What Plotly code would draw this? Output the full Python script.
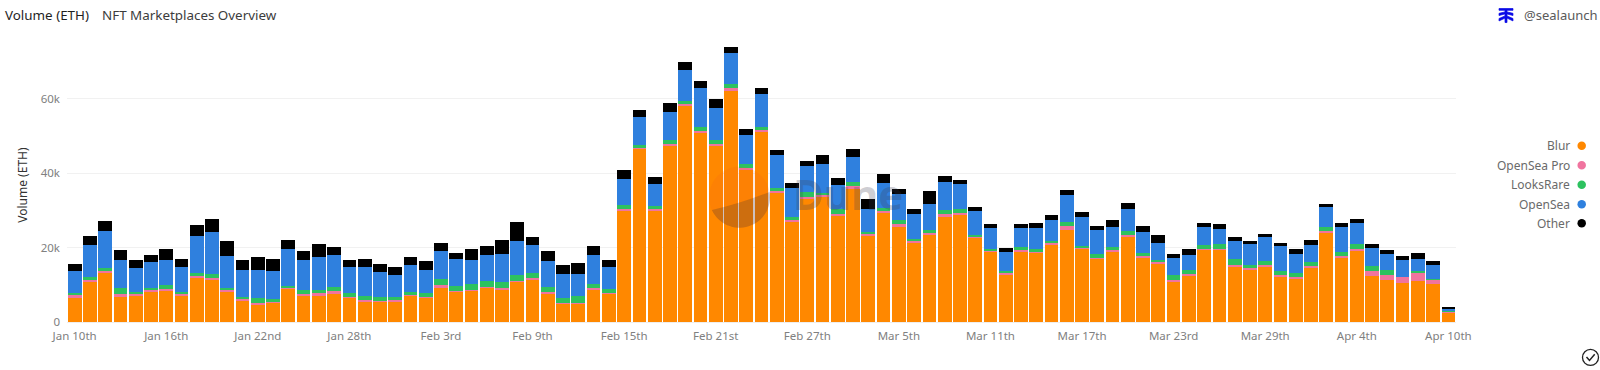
import math
import pandas as pd
import plotly.graph_objects as go

FONT = "Noto Sans"
dates = pd.date_range("2023-01-10", "2023-04-10").strftime("%Y-%m-%d").tolist()

tick_dates = ["2023-01-10","2023-01-16","2023-01-22","2023-01-28","2023-02-03","2023-02-09","2023-02-15",
              "2023-02-21","2023-02-27","2023-03-05","2023-03-11","2023-03-17","2023-03-23","2023-03-29",
              "2023-04-04","2023-04-10"]
tick_labels = ["Jan 10th","Jan 16th","Jan 22nd","Jan 28th","Feb 3rd","Feb 9th","Feb 15th","Feb 21st","Feb 27th",
               "Mar 5th","Mar 11th","Mar 17th","Mar 23rd","Mar 29th","Apr 4th","Apr 10th"]
y_ticks = [0, 20000, 40000, 60000]
y_labels = ["0", "20k", "40k", "60k"]

# thousands of ETH, one value per day
blur = [6.5,11.0,13.4,6.9,7.2,8.1,8.4,7.1,11.85,11.2,8.1,5.8,4.6,5.2,8.9,7.1,7.2,7.6,6.5,5.6,5.4,5.4,7.0,6.5,9.4,8.1,
        8.45,9.2,8.8,10.8,11.5,7.7,4.9,4.9,8.8,7.6,30.1,46.65,30.1,47.55,58.3,50.8,47.3,62.2,40.85,51.2,34.85,26.9,
        33.3,33.8,28.6,36.0,23.3,29.4,25.8,21.5,23.3,28.3,28.8,22.6,19.0,12.85,19.0,18.6,20.6,24.8,19.65,17.0,18.75,
        23.05,17.4,15.6,10.9,12.6,19.4,19.4,14.9,14.1,14.7,12.1,11.7,14.7,23.85,17.2,19.0,12.3,11.2,10.5,11.1,10.1,2.3]
opensea_pro = [.7,.4,.4,.5,.5,.5,.6,.3,.55,.65,.4,.3,.45,.4,.45,.4,.5,.7,.3,.4,.3,.4,.3,.3,.5,.35,
               .25,.3,.4,.3,.35,.4,.2,.2,.4,.2,.3,.25,.3,.25,.3,.6,.6,.6,.65,.3,.25,.6,
               .3,.4,.5,.5,.45,.4,.5,.5,.7,.8,.5,.3,.3,.35,.4,.3,.6,.9,.45,.3,.55,
               .45,.45,.4,.4,.4,.3,.3,.45,.35,.55,.5,.3,.4,.65,.65,.65,1.5,1.45,1.6,2.3,1.2,.55]
looksrare = [.6,.7,.8,1.8,.3,.6,1.0,.6,.8,.95,.7,.7,1.35,.5,.45,1.2,.9,1.1,1.1,.9,1.0,.8,.9,.9,1.7,1.35,
             1.4,1.55,1.6,1.5,1.25,1.3,1.4,2.0,1.1,1.2,.95,.75,.8,1.1,.9,1.1,1.0,1.1,.95,.9,1.0,.7,
             1.3,.5,1.3,1.1,.55,.85,1.0,.4,.8,.9,1.1,.6,.4,.5,.7,.75,.7,1.2,.4,1.1,.9,
             1.0,.75,.8,1.4,1.1,1.0,1.3,1.6,.9,1.15,1.2,1.1,1.1,1.05,1.05,1.35,1.3,1.35,.1,.2,.2,.05]
opensea = [5.8,8.5,9.8,7.4,6.4,6.9,6.8,6.9,9.8,11.4,8.65,7.2,7.5,7.6,9.8,8.1,8.9,8.5,6.8,7.8,6.7,6.1,7.1,6.4,7.4,7.1,
           6.7,6.95,7.6,9.1,7.6,7.1,6.3,5.9,7.7,5.9,7.15,7.35,5.9,7.5,8.2,10.3,8.6,8.35,7.85,9.0,8.8,7.8,
           7.1,7.7,6.4,6.7,6.1,6.65,7.0,6.55,6.8,7.7,6.7,6.35,5.5,5.2,5.25,5.55,5.4,7.15,7.6,6.2,5.4,
           6.0,5.6,4.55,4.4,4.0,4.9,3.9,4.95,5.55,6.4,6.7,5.3,4.6,5.25,6.7,5.6,4.9,4.4,4.5,3.45,3.9,.7]
other = [2.0,2.5,2.7,2.7,2.4,1.9,2.9,2.0,3.0,3.4,3.95,2.6,3.7,3.2,2.5,2.4,3.5,2.3,2.0,2.3,2.3,2.0,2.1,2.4,2.25,1.75,
         2.7,2.35,3.65,5.1,2.25,2.6,2.5,2.9,2.35,1.8,2.4,2.1,1.8,2.4,2.2,2.1,2.4,1.8,1.6,1.4,1.4,1.4,
         1.4,2.4,1.8,2.3,2.6,2.6,1.35,1.45,3.7,1.45,1.2,1.05,1.15,1.0,1.05,1.4,1.4,1.45,1.5,1.2,1.8,
         1.6,1.5,1.95,1.3,1.5,1.0,1.5,1.0,.8,.9,.8,1.25,1.2,.9,1.0,1.1,1.1,.9,1.1,1.6,1.0,.35]

series = [("Blur", blur, "#FF8800"), ("OpenSea Pro", opensea_pro, "#F0749F"),
          ("LooksRare", looksrare, "#2DC25F"), ("OpenSea", opensea, "#2F80DE"), ("Other", other, "#000000")]

L, R, T, B = 67, 1456, 30, 322.5
W, H = 1600, 370
px = lambda x: (x - L) / (R - L)
py = lambda y: (B - y) / (B - T)

fig = go.Figure()
for name, vals, color in series:
    fig.add_bar(x=dates, y=[v * 1000 for v in vals], name=name, marker=dict(color=color, line_width=0), showlegend=False)

ann = []
def text(x, y, s, size, color, anchor="left", **kw):
    ann.append(dict(x=px(x), y=py(y), xref="paper", yref="paper", text=s, showarrow=False, xanchor=anchor,
                    yanchor="middle", font=dict(family=FONT, size=size, color=color), **kw))

text(3, 15, "Volume (ETH)", 13.4, "#1f1f1f")
text(100, 15, "NFT Marketplaces Overview", 13.4, "#3c3c3c")
text(1522, 15, "@sealaunch", 13, "#5a5a5a")
text(23, 185, "Volume (ETH)", 12, "#333333", anchor="center", textangle=-90)

shapes = []
def circle(cx, cy, r, **kw):
    return dict(type="circle", xref="paper", yref="paper", x0=px(cx - r), x1=px(cx + r), y0=py(cy + r), y1=py(cy - r), **kw)

for (name, _, color), y in zip(series, [146, 165.5, 185, 204.5, 223.5]):
    text(1572, y, name, 12, "#6a6a6a", anchor="right")
    shapes.append(circle(1581.7, y, 4.25, fillcolor=color, line_width=0))

def pixel_path(cx, cy, path, **kw):
    return dict(type="path", xref="paper", yref="paper", xsizemode="pixel", ysizemode="pixel",
                xanchor=px(cx), yanchor=py(cy), path=path, **kw)

def arc(r, a0, a1, n=32):
    return [(r * math.cos(math.radians(a0 + (a1 - a0) * i / n)), r * math.sin(math.radians(a0 + (a1 - a0) * i / n))) for i in range(n + 1)]

def poly(points):
    return "M" + " L".join(f"{x:.2f},{y:.2f}" for x, y in points)

# @sealaunch mark
shapes.append(pixel_path(1506, 15.5,
    "M-7,7 L7,7 L7,5.2 L1,5.2 L1,3.6 L7,2.2 L7,0 L1,1.6 L1,-0.4 L7,-3 L7,-5.4 L1,-2.6 L1,-7 L-1,-7 L-1,-2.6 L-7,-5.4 L-7,-3 L-1,-0.4 L-1,1.6 L-7,0 L-7,2.2 L-1,3.6 L-1,5.2 L-7,5.2 Z",
    fillcolor="#0A0AE6", line=dict(color="#0A0AE6", width=0.7)))
# corner check mark
shapes.append(circle(1590.5, 358, 8, fillcolor="rgba(0,0,0,0)", line=dict(color="#222222", width=1.3)))
shapes.append(pixel_path(1590.5, 358, "M-4,0.5 L-1,-3 L4.2,3.2", line=dict(color="#222222", width=1.5)))
# Dune watermark
shapes.append(pixel_path(739.5, 197.5, poly(arc(30.5, 205, 10)) + " Q2,-6 -27.6,-12.9 Z", fillcolor="rgba(244,90,30,0.14)", line_width=0, layer="above"))
shapes.append(pixel_path(739.5, 197.5, poly(arc(30.5, 205, 370)) + " Q2,-6 -27.6,-12.9 Z", fillcolor="rgba(90,50,50,0.30)", line_width=0, layer="above"))
text(791, 194, "<b>Dune</b>", 42, "rgba(60,60,80,0.26)")

fig.update_layout(
    width=W, height=H, barmode="stack", bargap=0.1, template=None,
    paper_bgcolor="#ffffff", plot_bgcolor="#ffffff",
    margin=dict(l=L, r=W - R, t=T, b=H - B, pad=0), font=dict(family=FONT, size=11.5, color="#7a7a7a"),
    xaxis=dict(type="date", range=["2023-01-09 12:00", "2023-04-10 12:00"], tickmode="array", tickvals=tick_dates,
               ticktext=tick_labels, ticks="", showgrid=False, showline=False, zeroline=False,
               tickfont=dict(size=11.5, color="#808080"), ticklabelstandoff=5),
    yaxis=dict(range=[0, 78500], tickmode="array", tickvals=y_ticks, ticktext=y_labels, ticks="",
               showgrid=True, gridcolor="#f1f1f1", gridwidth=1, zeroline=True, zerolinecolor="#eeeeee", showline=False,
               tickfont=dict(size=11.5, color="#808080"), ticklabelstandoff=6),
    annotations=ann, shapes=shapes, bargroupgap=0,
)
fig.write_html("out.html", config=dict(displayModeBar=False),
               post_script="document.body.style.margin='0';document.documentElement.style.overflow='hidden';")
